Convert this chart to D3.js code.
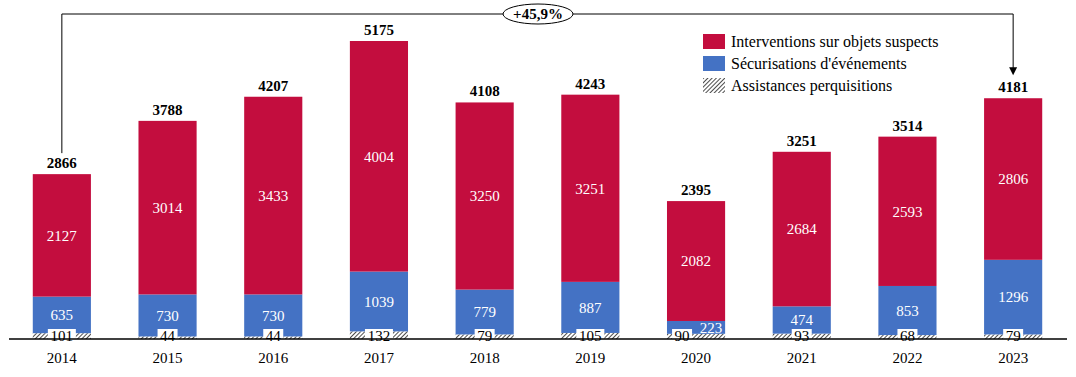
<!DOCTYPE html>
<meta charset="utf-8">
<style>
body { margin: 0; background: #fff; }
text { font-family: "Liberation Serif", "Times New Roman", serif; }
</style>
<body>
<script src="https://cdn.jsdelivr.net/npm/d3@7"></script>
<script>

var years = ["2014", "2015", "2016", "2017", "2018", "2019", "2020", "2021", "2022", "2023"];
var interventions = [2127, 3014, 3433, 4004, 3250, 3251, 2082, 2684, 2593, 2806];
var securisations = [635, 730, 730, 1039, 779, 887, 223, 474, 853, 1296];
var assistances = [101, 44, 44, 132, 79, 105, 90, 93, 68, 79];
var totals = [2866, 3788, 4207, 5175, 4108, 4243, 2395, 3251, 3514, 4181];
var seriesNames = ["Interventions sur objets suspects", "Sécurisations d'événements", "Assistances perquisitions"];
var growthLabel = "+45,9%";

var width = 1076, height = 377;
var baseY = 339;

var red = "#c30d3e", blue = "#4472c4";

var svg = d3.select("body").append("svg")
    .attr("width", width)
    .attr("height", height);

var defs = svg.append("defs");
var pat = defs.append("pattern")
    .attr("id", "hatch")
    .attr("patternUnits", "userSpaceOnUse")
    .attr("width", 3).attr("height", 3)
    .attr("patternTransform", "rotate(45)");
pat.append("rect").attr("width", 3).attr("height", 3).attr("fill", "#fff");
pat.append("line").attr("x1", 0).attr("y1", 0).attr("x2", 0).attr("y2", 3)
    .attr("stroke", "#000").attr("stroke-width", 1.4);

var x = d3.scaleBand()
    .domain(years)
    .range([9, 1066])
    .paddingInner(0.45)
    .paddingOuter(0.225);

var y = d3.scaleLinear()
    .domain([0, 5175])
    .range([baseY, 41]);

var data = years.map((yr, i) => ({
  year: yr,
  a: assistances[i],
  s: securisations[i],
  v: interventions[i],
  total: totals[i]
}));

var g = svg.selectAll("g.bar")
  .data(data)
  .enter().append("g")
    .attr("class", "bar");

// hatched bottom
g.append("rect")
    .attr("x", d => x(d.year))
    .attr("width", x.bandwidth())
    .attr("y", d => y(d.a))
    .attr("height", d => y(0) - y(d.a))
    .attr("fill", "url(#hatch)");

g.append("rect")
    .attr("x", d => x(d.year))
    .attr("width", x.bandwidth())
    .attr("y", d => y(d.a + d.s))
    .attr("height", d => y(d.a) - y(d.a + d.s))
    .attr("fill", blue);

g.append("rect")
    .attr("x", d => x(d.year))
    .attr("width", x.bandwidth())
    .attr("y", d => y(d.a + d.s + d.v))
    .attr("height", d => y(d.a + d.s) - y(d.a + d.s + d.v))
    .attr("fill", red);

// axis line
svg.append("line")
    .attr("x1", 9).attr("x2", 1067)
    .attr("y1", baseY).attr("y2", baseY)
    .attr("stroke", "#000").attr("stroke-width", 1.5);

var cx = d => x(d.year) + x.bandwidth() / 2;

// red labels
g.append("text")
    .attr("x", cx)
    .attr("y", d => (y(d.a + d.s) + y(d.a + d.s + d.v)) / 2)
    .attr("dy", "0.35em")
    .attr("text-anchor", "middle")
    .attr("fill", "#fff")
    .attr("font-size", 15)
    .text(d => d.v);

// blue labels
g.append("text")
    .attr("x", d => d.year === "2020" ? cx(d) + 15 : cx(d))
    .attr("y", d => d.year === "2020" ? y(d.a) - 6 : (y(d.a) + y(d.a + d.s)) / 2)
    .attr("dy", "0.35em")
    .attr("text-anchor", "middle")
    .attr("fill", "#fff")
    .attr("font-size", 15)
    .text(d => d.s);

// hatched labels in white boxes
var hl = g.append("g")
    .attr("transform", d => `translate(${d.year === "2020" ? cx(d) - 14 : cx(d)},${baseY})`);
hl.append("rect")
    .attr("x", d => -String(d.a).length * 4 - 2)
    .attr("width", d => String(d.a).length * 8 + 4)
    .attr("y", -10)
    .attr("height", 10)
    .attr("fill", "#fff");
hl.append("text")
    .attr("text-anchor", "middle")
    .attr("y", 2)
    .attr("font-size", 15)
    .attr("fill", "#000")
    .text(d => d.a);

// totals
g.append("text")
    .attr("x", cx)
    .attr("y", d => y(d.a + d.s + d.v) - 6)
    .attr("text-anchor", "middle")
    .attr("font-size", 15)
    .attr("font-weight", "bold")
    .text(d => d.total);

// year labels
g.append("text")
    .attr("x", cx)
    .attr("y", 363)
    .attr("text-anchor", "middle")
    .attr("font-size", 15)
    .text(d => d.year);

// growth annotation
var first = data[0], last = data[data.length - 1];
var topY = 14;
var lastTop = y(last.a + last.s + last.v);
svg.append("path")
    .attr("d", `M${cx(first)},${y(first.a + first.s + first.v) - 21} V${topY} H${cx(last)} V${lastTop - 26}`)
    .attr("fill", "none")
    .attr("stroke", "#000")
    .attr("stroke-width", 1);
svg.append("path")
    .attr("d", `M${cx(last) - 4},${lastTop - 31} L${cx(last) + 4},${lastTop - 31} L${cx(last)},${lastTop - 23} Z`)
    .attr("fill", "#000");

var ex = (cx(first) + cx(last)) / 2 + 0.5;
svg.append("ellipse")
    .attr("cx", ex).attr("cy", topY)
    .attr("rx", 35).attr("ry", 10)
    .attr("fill", "#fff").attr("stroke", "#000").attr("stroke-width", 1);
svg.append("text")
    .attr("x", ex).attr("y", topY)
    .attr("dy", "0.35em")
    .attr("text-anchor", "middle")
    .attr("font-size", 15)
    .attr("font-weight", "bold")
    .text(growthLabel);

// legend
var legend = svg.append("g").attr("transform", "translate(703,34)");
var fills = [red, blue, "url(#hatch)"];
var li = legend.selectAll("g")
  .data(seriesNames)
  .enter().append("g")
    .attr("transform", (d, i) => `translate(0,${i * 22})`);
li.append("rect")
    .attr("width", 22).attr("height", 15)
    .attr("fill", (d, i) => fills[i]);
li.append("text")
    .attr("x", 28).attr("y", 7.5)
    .attr("dy", "0.35em")
    .attr("font-size", 16)
    .text(d => d);

</script>
